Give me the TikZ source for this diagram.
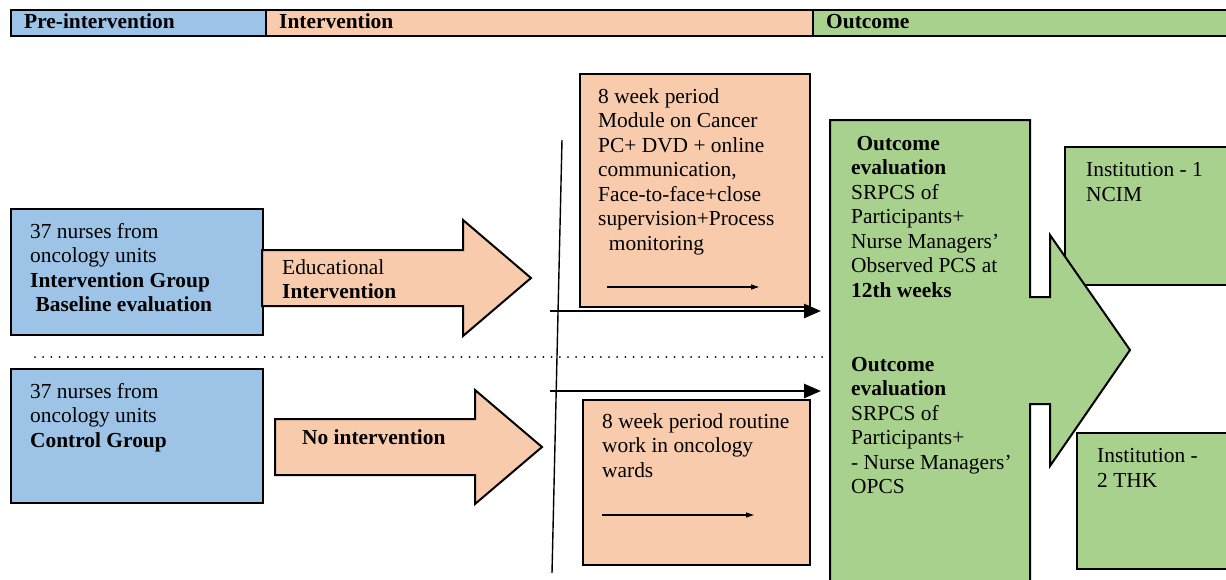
\documentclass[tikz,border=0pt]{standalone}
\usepackage{fontspec}
\setmainfont{Liberation Serif}
\usetikzlibrary{arrows.meta}
\definecolor{cblue}{HTML}{9DC3E6}
\definecolor{cpeach}{HTML}{F8CBAD}
\definecolor{cgreen}{HTML}{A9D18E}
\begin{document}
\begin{tikzpicture}[x=1pt,y=-1pt,
  every node/.style={font=\fontsize{21.4}{24.5}\selectfont},
  txt/.style={anchor=base west,inner sep=0pt,align=left},
  boxline/.style={draw=black,line width=2pt},
  bigarrow/.style={line width=2.6pt,-{Triangle[length=17pt,width=14pt]}},
  smallarrow/.style={line width=1.2pt,-{Triangle[length=8pt,width=5pt]}},
  bluebox/.style={boxline,fill=cblue,rectangle,inner sep=0pt,anchor=north west},
  peachbox/.style={boxline,fill=cpeach,rectangle,inner sep=0pt,anchor=north west},
  greenbox/.style={boxline,fill=cgreen,rectangle,inner sep=0pt,anchor=north west}]
\useasboundingbox (0,0) rectangle (1226,579);
\clip (0,0) rectangle (1226,579);
% header bar
\node[bluebox,minimum width=255pt,minimum height=26pt] (h1) at (10,9) {};
\node[peachbox,minimum width=547pt,minimum height=26pt] (h2) at (265,9) {};
\node[greenbox,minimum width=420pt,minimum height=26pt] (h3) at (812,9) {};
\node[txt] (h1t) at (24,28) {\bfseries Pre-intervention};
\node[txt] (h2t) at (279,28) {\bfseries Intervention};
\node[txt] (h3t) at (826,28) {\bfseries Outcome};
% blue boxes
\node[bluebox,minimum width=252pt,minimum height=126pt] (b1) at (10,208) {};
\node[bluebox,minimum width=252pt,minimum height=134pt] (b2) at (10,368) {};
\node[txt] (b1t) at (30,311.5) {37 nurses from\\oncology units\\\textbf{Intervention Group}\\\textbf{\ Baseline evaluation}};
\node[txt] (b2t) at (30,447) {37 nurses from\\oncology units\\\textbf{Control Group}};
% block arrows
\filldraw[fill=cpeach,draw=black,line width=2pt] (262,250) -- (463,250) -- (463,220) -- (531,278) -- (463,336) -- (463,306) -- (262,306) -- cycle;
\filldraw[fill=cpeach,draw=black,line width=2pt] (275,419) -- (475,419) -- (475,390) -- (542,447) -- (475,504) -- (475,475) -- (275,475) -- cycle;
\node[txt] (a1t) at (282,298.5) {Educational\\\textbf{Intervention}};
\node[txt] (a2t) at (302,444) {\textbf{No intervention}};
% dotted separator
\coordinate (d1) at (35,357);
\coordinate (d2) at (829,357);
\draw[line width=2pt,line cap=round,dash pattern=on 0pt off 8.2pt] (d1) -- (d2);
% peach boxes
\node[peachbox,minimum width=230pt,minimum height=233pt] (p1) at (579,73) {};
\node[peachbox,minimum width=227pt,minimum height=165pt] (p2) at (582,399) {};
\node[txt] (p1t) at (598,250) {8 week period\\Module on Cancer\\PC+ DVD + online\\communication,\\Face-to-face+close\\supervision+Process\\\ \ monitoring};
\node[txt] (p2t) at (602,477) {8 week period routine\\work in oncology\\wards};
\coordinate (s1a) at (607,287); \coordinate (s1b) at (759,287);
\coordinate (s2a) at (602,515); \coordinate (s2b) at (754,515);
\draw[smallarrow] (s1a) -- (s1b);
\draw[smallarrow] (s2a) -- (s2b);
% vertical line
\coordinate (v1) at (562,140); \coordinate (v2) at (552,573);
\draw[line width=1.4pt] (v1) -- (v2);
% institution boxes
\node[greenbox,minimum width=180pt,minimum height=138pt] (i1) at (1064,146) {};
\node[greenbox,minimum width=170pt,minimum height=136pt] (i2) at (1076,432) {};
\node[txt] (i1t) at (1086,201) {Institution - 1\\NCIM};
\node[txt] (i2t) at (1097,487) {Institution -\\2 THK};
% big green outcome arrow
\filldraw[fill=cgreen,draw=black,line width=2pt] (830,120) -- (1030,120) -- (1030,297) -- (1050,297) -- (1050,235) -- (1130,350) -- (1050,466) -- (1050,404) -- (1030,404) -- (1030,590) -- (830,590) -- cycle;
\node[txt] (g1t) at (851,297) {\textbf{\ Outcome}\\\textbf{evaluation}\\SRPCS of\\Participants+\\Nurse Managers’\\Observed PCS at\\\textbf{12th weeks}};
\node[txt] (g2t) at (851,493.5) {\textbf{Outcome}\\\textbf{evaluation}\\SRPCS of\\Participants+\\- Nurse Managers’\\OPCS};
% connectors into outcome
\coordinate (c1a) at (550,311); \coordinate (c1b) at (821,311);
\coordinate (c2a) at (550,391); \coordinate (c2b) at (821,391);
\draw[bigarrow] (c1a) -- (c1b);
\draw[bigarrow] (c2a) -- (c2b);
\end{tikzpicture}
\end{document}
